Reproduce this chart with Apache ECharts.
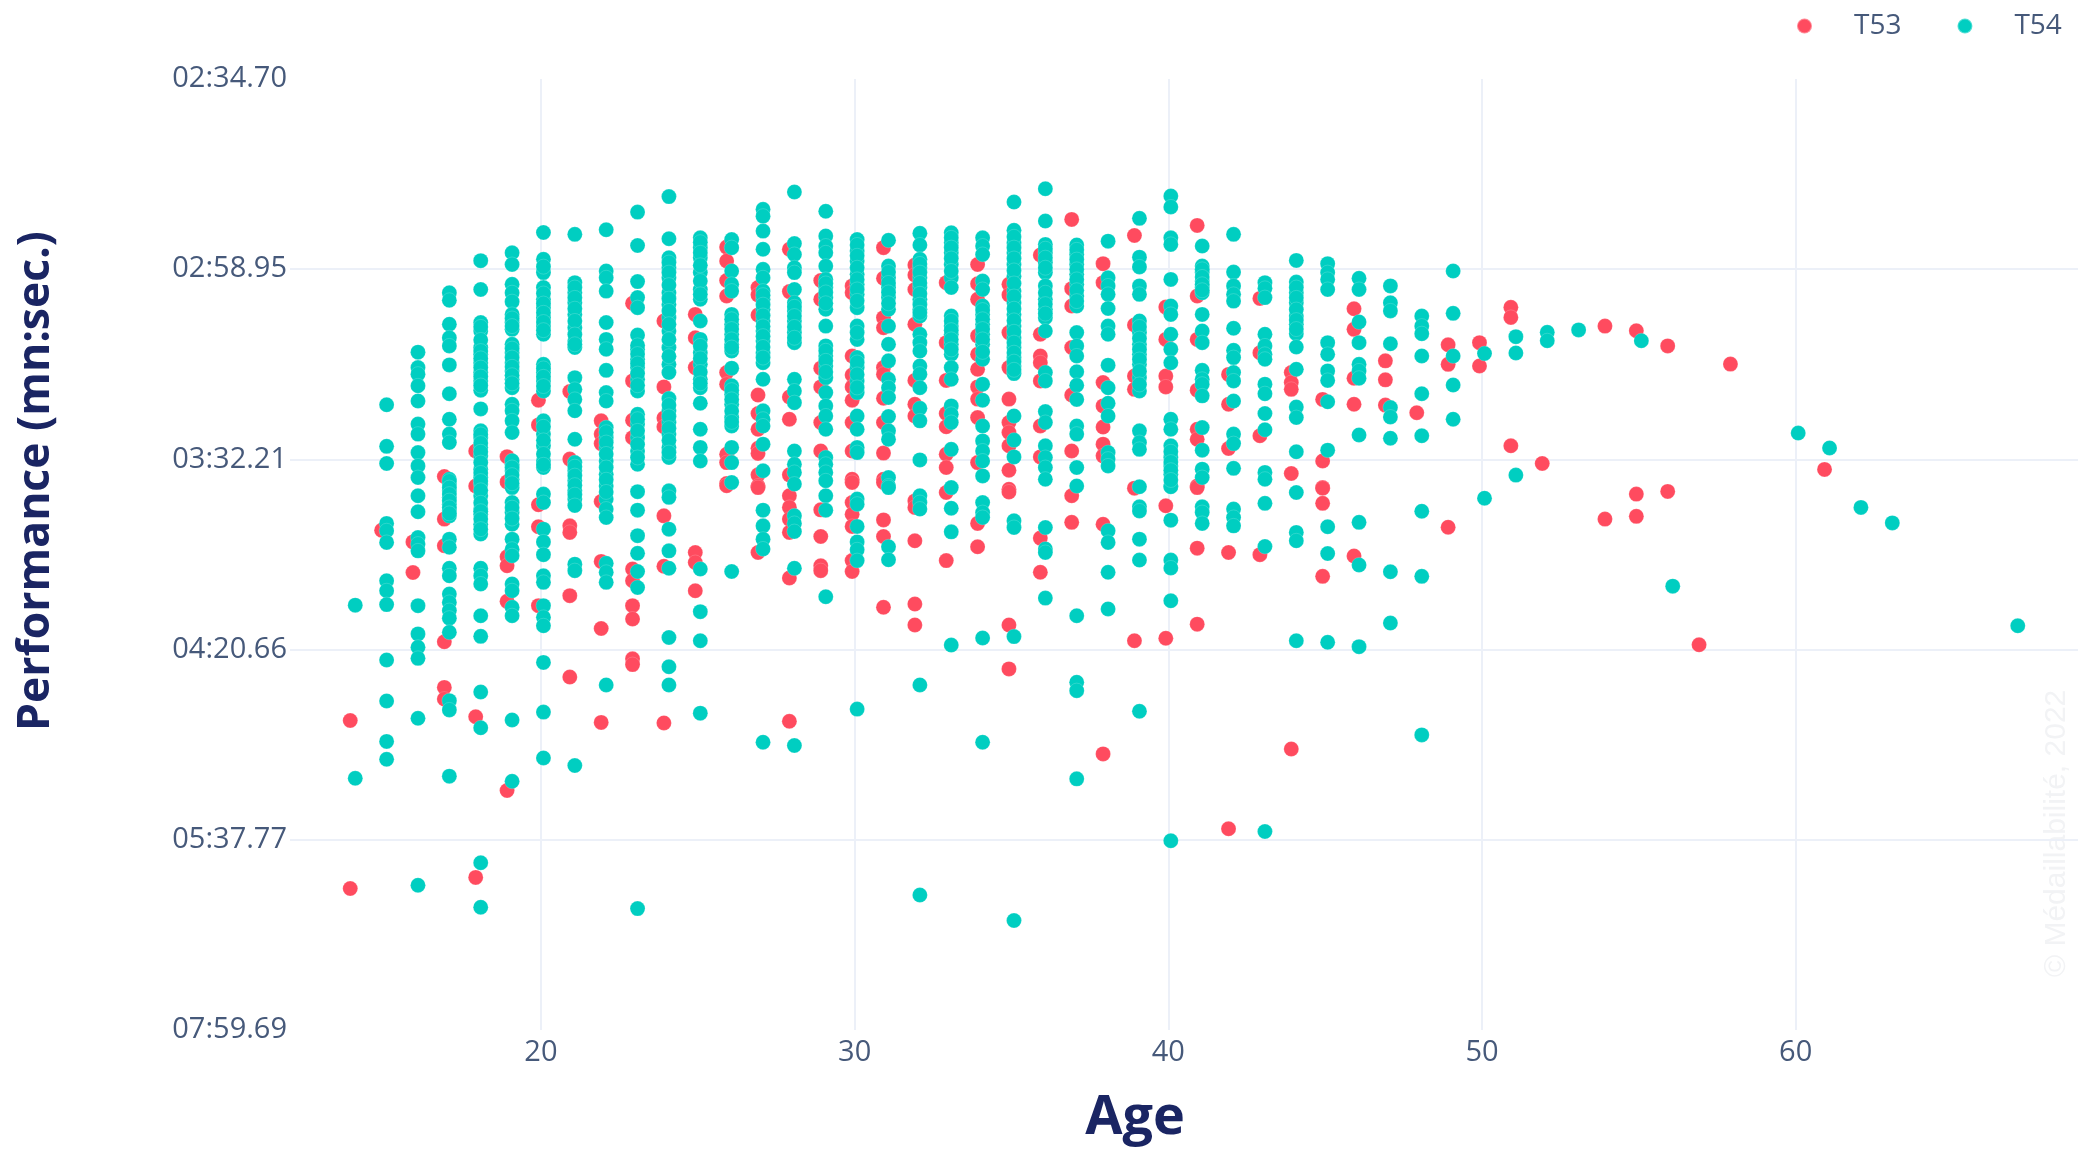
<!DOCTYPE html>
<html>
<head>
<meta charset="utf-8">
<style>html,body{margin:0;padding:0;background:#fff}#chart{width:2088px;height:1152px}</style>
<script src="https://cdn.jsdelivr.net/npm/echarts@6/dist/echarts.min.js"></script>
</head>
<body>
<div id="chart"></div>
<script>
// Tick labels: the axis is linear in speed, labelled with the 800 m time.
const yTickLabels = ['07:59.69','05:37.77','04:20.66','03:32.21','02:58.95','02:34.70'];
const xTickValues = [20,30,40,50,60];
const distanceM = 800;

// Values: speed in cm/s for each athlete, grouped by age.
const t53Ages = [14,15,16,17,18,19,20,21,22,23,24,25,26,27,28,29,30,31,32,33,34,35,36,37,38,39,40,41,42,43,44,45,46,47,48,49,50,51,52,54,55,56,57,58,61];
const t53Speeds = [
 [280.8,218.9],
 [350.9],
 [346.6,335.3],
 [370.7,355.0,345.2,309.8,293.0,288.7],
 [380.1,367.2,282.2,223.0],
 [378.0,368.7,341.1,337.8,324.7,255.0],
 [398.8,389.7,360.3,352.2,323.1],
 [402.0,377.1,352.5,350.1,326.8,296.8],
 [391.2,386.3,382.8,361.5,339.4,314.7,280.1],
 [434.5,405.9,391.4,385.0,336.6,332.3,323.1,318.2,303.5,301.4],
 [428.0,403.7,392.2,389.0,356.2,337.6,279.9],
 [430.4,421.8,410.8,342.7,339.0,328.6],
 [455.2,450.1,442.9,437.2,409.0,404.7,378.9,375.8,368.1,367.3],
 [440.3,437.6,430.2,400.7,393.9,388.1,381.1,379.2,371.3,367.2,366.6,342.7],
 [454.4,438.8,400.0,391.8,371.3,363.6,359.3,355.0,350.1,333.3,280.5],
 [442.9,436.0,410.6,403.7,390.6,380.1,358.4,348.6,337.8,336.0],
 [440.9,438.4,415.1,408.1,403.7,398.8,390.6,380.1,369.7,368.5,361.1,356.8,352.3,339.7,335.7],
 [455.0,443.7,429.2,425.5,410.8,408.4,399.5,390.6,379.3,369.7,368.5,354.7,348.6,322.5],
 [448.6,444.9,439.6,426.8,406.1,397.3,393.0,361.7,359.3,347.0,323.7,316.0],
 [442.1,420.0,406.1,393.9,389.0,378.9,374.0,364.8,339.7],
 [448.8,441.7,436.0,422.5,415.7,410.2,403.7,399.2,392.4,375.8,353.4,344.8],
 [441.5,437.6,423.7,410.8,399.2,390.6,386.9,382.0,373.0,366.0,365.0,316.0,299.8],
 [452.3,423.1,415.1,412.6,405.9,389.3,377.9,348.0,335.4],
 [465.4,439.9,433.5,418.2,400.7,380.1,363.6,353.8],
 [449.1,442.1,405.3,396.7,388.9,382.6,378.3,353.1,268.5],
 [459.5,426.5,407.7,402.8,366.4,310.2],
 [433.1,421.2,407.7,403.7,359.9,311.1],
 [463.2,437.2,421.2,402.5,388.1,384.4,367.2,366.6,344.3,316.3],
 [408.3,397.3,381.0,342.7,240.9],
 [436.3,416.3,385.7,341.9],
 [409.0,405.3,402.8,371.8,270.3],
 [399.1,376.4,366.6,366.4,360.8,333.9],
 [432.5,424.9,406.9,397.3,341.4],
 [413.3,406.3,397.0],
 [394.2],
 [419.2,412.0,352.0],
 [420.0,411.4],
 [433.0,429.3,382.0],
 [375.5],
 [426.1,355.0],
 [424.4,364.2,356.0],
 [418.8,365.2],
 [308.7],
 [412.1],
 [373.3]
];
const t54Ages = [14,15,16,17,18,19,20,21,22,23,24,25,26,27,28,29,30,31,32,33,34,35,36,37,38,39,40,41,42,43,44,45,46,47,48,49,50,51,52,53,55,56,60,61,62,63,67];
const t54Speeds = [
 [323.3,259.5],
 [397.1,381.8,375.5,353.4,350.7,346.4,332.3,328.6,323.5,303.1,288.0,273.1,266.5],
 [416.5,410.8,408.4,404.1,398.5,390.0,386.3,379.5,374.6,370.3,363.6,357.7,348.2,345.8,343.3,323.1,312.7,307.8,303.7,281.6,220.1],
 [438.4,435.6,426.8,421.8,418.8,411.8,401.2,391.8,386.3,383.2,369.7,367.9,365.4,363.0,360.5,358.1,356.2,347.6,344.6,336.9,334.1,327.4,324.3,321.3,318.5,313.3,288.1,284.7,260.3],
 [450.2,439.6,427.4,424.3,418.2,415.7,412.6,409.0,405.9,402.5,395.6,387.5,385.0,381.4,378.3,373.4,370.3,367.9,363.6,358.7,356.8,353.1,349.5,336.9,334.1,331.1,319.4,311.8,291.3,278.1,228.4,212.0],
 [453.1,448.8,441.5,438.4,435.1,430.4,427.4,424.9,419.4,416.3,412.6,409.6,406.5,403.4,397.3,394.9,391.2,386.9,375.2,372.8,369.7,366.6,361.1,357.4,353.1,347.6,343.9,341.5,331.1,328.6,322.5,319.4,281.0,258.4],
 [460.6,450.7,445.8,440.3,436.0,432.9,429.2,426.1,423.1,412.0,409.0,405.9,402.2,391.2,386.3,382.0,376.4,374.0,364.2,361.1,351.3,346.6,341.9,334.1,331.7,323.1,318.8,315.7,302.2,283.9,267.0],
 [459.9,442.1,438.4,434.7,430.4,425.5,420.6,418.2,407.1,402.8,399.1,394.9,384.4,375.8,372.8,369.1,365.4,362.4,338.4,336.0,264.2],
 [461.6,446.4,443.9,439.0,427.4,421.2,417.6,409.8,401.6,398.5,388.7,385.0,381.4,376.4,371.5,367.2,362.4,358.7,355.6,338.7,335.4,331.7,293.9],
 [468.1,455.8,442.5,436.6,432.9,422.8,417.6,413.9,410.8,406.5,402.2,393.6,390.0,385.0,380.1,375.2,365.1,358.3,348.9,342.4,335.7,329.8,211.5],
 [473.8,458.3,451.3,447.6,443.9,438.4,434.1,429.2,424.3,418.2,412.0,409.0,399.4,394.9,390.6,386.3,381.4,377.7,365.4,363.0,351.3,343.3,336.9,311.4,300.6,293.9],
 [458.6,455.0,451.3,445.8,439.6,436.0,428.0,421.2,416.3,412.0,406.5,403.4,397.7,388.1,381.4,376.4,336.6,320.9,310.2,283.5],
 [458.0,455.0,446.4,441.5,439.0,430.4,426.8,423.1,419.4,416.9,410.6,404.1,401.0,397.3,392.4,389.3,381.4,375.8,368.5,335.7],
 [469.1,466.6,461.1,454.4,447.0,443.9,439.0,436.0,432.3,428.0,424.3,420.6,416.3,412.6,406.5,394.9,391.8,389.3,382.6,372.8,358.3,352.5,347.6,344.0,272.8],
 [475.5,456.5,452.5,447.6,445.8,439.6,434.7,431.7,428.0,423.7,420.0,406.5,402.2,397.9,380.1,375.2,372.2,367.9,356.2,353.4,350.4,336.9,271.6],
 [468.4,459.3,455.6,453.1,448.2,443.3,440.3,436.6,432.3,426.1,418.8,415.1,411.4,407.1,401.6,396.7,393.0,388.1,377.7,375.2,372.2,369.1,363.6,358.3,326.4],
 [458.0,453.8,450.1,445.2,441.5,437.8,432.9,426.1,421.2,414.5,410.8,405.9,401.6,393.0,388.1,381.4,379.5,362.4,360.5,352.3,346.6,343.7,339.7,285.0],
 [457.7,448.2,443.9,440.3,436.6,432.3,426.1,419.4,413.3,406.5,403.4,399.8,392.8,387.5,384.4,370.3,367.2,366.6,344.8,340.0],
 [460.3,456.0,450.7,447.6,443.9,440.3,436.0,432.3,429.8,423.1,420.0,416.9,411.4,408.4,403.4,395.8,391.2,376.8,363.6,361.1,358.7,293.9,216.5],
 [460.5,456.8,453.1,448.8,443.9,440.3,429.8,426.1,423.1,419.4,415.7,410.8,406.5,396.7,393.6,390.6,380.7,366.6,359.0,350.3,308.6],
 [458.6,455.6,452.5,442.7,439.6,433.5,430.4,426.8,423.1,419.4,413.9,404.7,398.8,389.3,383.8,380.1,376.4,370.9,361.1,357.4,355.6,311.2,272.8],
 [471.8,461.4,456.8,453.1,448.8,444.5,439.0,434.7,430.4,426.1,421.8,418.2,414.5,411.4,408.6,393.0,384.1,377.9,354.4,351.9,311.7,207.1],
 [476.7,464.8,456.2,453.1,449.5,445.8,440.9,436.0,432.3,429.2,424.3,409.0,405.9,394.6,390.6,382.0,377.7,374.0,369.7,351.9,344.0,342.7,325.9],
 [456.0,452.5,448.8,445.2,441.5,437.2,433.5,423.7,418.8,415.1,409.3,404.3,399.1,389.3,386.3,374.0,367.2,319.4,294.9,291.8,259.3],
 [457.4,443.9,440.9,437.8,432.6,426.1,423.1,411.7,403.4,397.7,393.0,379.5,377.1,374.6,350.7,346.4,335.4,321.9],
 [465.8,451.5,447.9,440.9,437.8,428.0,423.7,419.4,415.7,412.0,407.1,402.2,387.5,383.2,380.7,366.9,359.5,358.0,347.6,339.9,284.2],
 [474.0,470.0,458.6,456.2,443.3,433.5,430.4,423.1,417.6,412.6,391.8,388.1,382.0,377.7,374.6,371.5,367.2,366.9,354.6,339.9,337.0,324.9,236.5],
 [455.6,448.2,445.8,442.7,440.3,438.4,430.4,424.3,420.0,409.8,406.5,404.7,400.4,388.7,380.4,373.4,370.3,359.5,357.4,353.4],
 [459.9,446.0,440.9,437.8,435.3,425.3,417.2,414.5,409.0,405.9,398.5,386.3,382.8,373.7,358.7,355.6,352.5],
 [442.1,440.0,436.6,423.1,418.8,415.7,413.9,404.7,401.2,393.9,387.9,372.2,369.7,360.8,344.9,239.9],
 [450.3,442.3,438.4,434.7,429.8,426.8,423.3,418.4,410.2,396.3,392.4,379.8,364.8,350.1,347.0,310.2],
 [449.1,445.8,443.3,439.6,420.0,415.7,409.6,406.1,398.2,380.4,352.2,342.3,309.6],
 [443.7,439.6,427.6,420.0,412.0,409.6,406.9,386.0,353.8,338.1,308.0],
 [440.9,434.7,431.7,419.6,396.1,392.6,384.8,335.6,316.7],
 [429.8,426.1,423.3,415.1,401.2,385.7,357.9,333.9,275.5],
 [446.4,430.8,415.1,404.4,391.8],
 [416.0,362.7],
 [422.2,416.2,371.2],
 [423.8,420.7],
 [424.7],
 [420.7],
 [330.3],
 [386.7],
 [381.2],
 [359.3],
 [353.6],
 [315.7]
];
// Further T54 athletes estimated inside the solid runs, where dots merge into one another.
const t54RunAges = [17,18,19,20,21,22,23,24,25,26,27,28,29,30,31,32,33,34,35,36,37,39,40,41,44];
const t54RunSpeeds = [
 [369,366.6,364.2,361.8,359.3,357.1],
 [425.8,421,416.9,414.2,410.8,407.5,404.2,386.2,383,379.8,375.8,372,369,365.6,361,357.9,355,351.3],
 [428.9,426.1,417.8,414.5,411.1,408,405,376.5,374,371.2,368.2,359.2,355.2],
 [448,438.1,434.4,431,427.6,424.6,410.5,407.4,404,389,384,379,375],
 [440.3,436.5,432.5,428,423,419.4,374.3,371,367.5,364,360],
 [387,383.2,379,374,369.5,365],
 [419,415.8,412.3,408.6,404.3,391.8,387.5,382.5,377.7],
 [449.5,445.8,441.2,436.2,431.7,426.8,421.2,415,397,392.8,388.5,384,379.5],
 [457,453.1,448.5,442.7,437.8,418.8,414.2,409.2,405],
 [428.6,425,421.2,418.2,402.5,399.1,394.8,390.8],
 [437.5,434,430,426,422.4,418.4,414.5],
 [433.2,429.8,425.8,421.8],
 [441.8,438.5,434.5,417,413.3,409.2],
 [456,452,447.6,443.3,439.6,435.4,423.7,412.7,408.3,403.5],
 [446,442,438.5,434.5],
 [449,445.8,442,438,434,431],
 [458.6,455,451,446.4,428,424.6,421.2,417.5],
 [432,428.6,425,421.2,416.6],
 [459,455,451,446.6,441.8,437,432.5,428.2,424,420,416.3,413,410],
 [454.6,451.3,447.6,438.4,434.2,430.7],
 [454.2,450.6,447,443.3,439.3,435.3],
 [425.8,421.5,417.5,413.8,409.5,404.6],
 [379.8,376,373,369.4],
 [447,444.2,441.5,439.3],
 [440.3,436.5,432.2,428.3,425]
];

const seriesOffset = 0.08; // grouped scatter: each class sits slightly beside the age
const tickSeconds = yTickLabels.map(function (s) {
  const p = s.split(':');
  return Number(p[0]) * 60 + Number(p[1]);
});
const floorSpeed = 100 * distanceM / tickSeconds[0];
const speedStep = (100 * distanceM / tickSeconds[5] - floorSpeed) / 5;
function buildPoints(ages, speeds, shift) {
  const out = [];
  ages.forEach(function (age, i) {
    speeds[i].forEach(function (v) {
      out.push([age + shift, (v - floorSpeed) / speedStep]);
    });
  });
  return out;
}

const titleColor = '#1a2563';
const tickColor = '#46597a';
const gridColor = '#ecf0f8';
const font = '"Open Sans", sans-serif';
const chart = echarts.init(document.getElementById('chart'), null, {renderer: 'canvas'});
function markerSeries(name, color, data) {
  return {
    name: name, type: 'scatter', data: data, symbol: 'circle', symbolSize: 15,
    animation: false,
    itemStyle: {color: color, opacity: 1, borderColor: 'rgba(255,255,255,0.35)', borderWidth: 0.5}
  };
}
chart.setOption({
  animation: false,
  backgroundColor: '#ffffff',
  textStyle: {fontFamily: font},
  grid: {left: 290, right: 10, top: 79, bottom: 122, containLabel: false},
  legend: {
    left: 1791, top: 7, itemWidth: 15, itemHeight: 15, itemGap: 55,
    icon: 'circle',
    textStyle: {fontFamily: font, fontSize: 28, color: tickColor, padding: [0, 0, 0, 37]},
    data: ['T53', 'T54']
  },
  xAxis: {
    type: 'value', min: 12, max: 69,
    name: 'Age', nameLocation: 'middle', nameGap: 62,
    nameTextStyle: {fontFamily: font, fontSize: 54, fontWeight: 'bold', color: titleColor, padding: [0, 98, 0, 0]},
    axisLine: {show: false},
    axisTick: {show: false, customValues: xTickValues},
    axisLabel: {customValues: xTickValues, fontFamily: font, fontSize: 29, color: tickColor, margin: 8},
    splitLine: {show: true, lineStyle: {color: gridColor, width: 2}}
  },
  yAxis: {
    type: 'value', min: 0, max: 5, interval: 1,
    name: 'Performance (mn:sec.)', nameLocation: 'middle', nameGap: 231, nameRotate: 90,
    nameTextStyle: {fontFamily: font, fontSize: 44.5, fontWeight: 'bold', color: titleColor, padding: [0, 0, 0, 147]},
    axisLine: {show: false},
    axisTick: {show: false},
    axisLabel: {
      fontFamily: font, fontSize: 29, color: tickColor, margin: 3,
      formatter: function (v) { return yTickLabels[Math.round(v)]; }
    },
    splitLine: {show: true, showMinLine: false, showMaxLine: false, lineStyle: {color: gridColor, width: 2}}
  },
  graphic: [{
    type: 'text', z: 0, silent: true, rotation: Math.PI / 2,
    x: 2042, y: 977,
    style: {text: '© Médaillabilité, 2022', fontFamily: '"Liberation Sans", Arial, sans-serif', fontSize: 30, fill: '#f2f3f5'}
  }],
  series: [
    markerSeries('T53', '#ff4b5f', buildPoints(t53Ages, t53Speeds, -seriesOffset)),
    markerSeries('T54', '#00cec1', buildPoints(t54Ages, t54Speeds, seriesOffset).concat(buildPoints(t54RunAges, t54RunSpeeds, seriesOffset)))
  ]
});
</script>
</body>
</html>
